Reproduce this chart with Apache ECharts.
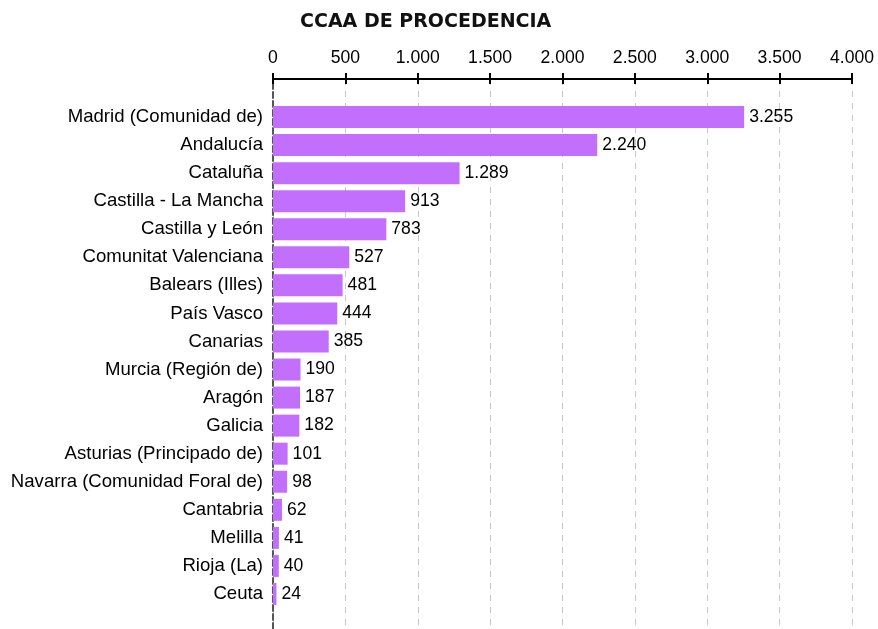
<!DOCTYPE html>
<html><head><meta charset="utf-8">
<script src="https://cdn.jsdelivr.net/npm/echarts@6/dist/echarts.min.js"></script>
<style>html,body{margin:0;padding:0;background:#fff}#c{width:878px;height:629px}</style>
</head><body><div id="c"></div>
<script>
const categories = ["Madrid (Comunidad de)","Andalucía","Cataluña","Castilla - La Mancha","Castilla y León","Comunitat Valenciana","Balears (Illes)","País Vasco","Canarias","Murcia (Región de)","Aragón","Galicia","Asturias (Principado de)","Navarra (Comunidad Foral de)","Cantabria","Melilla","Rioja (La)","Ceuta"];
const values = [3255,2240,1289,913,783,527,481,444,385,190,187,182,101,98,62,41,40,24];
const axisMin = 0, axisMax = 4000, axisStep = 500;
const titleText = "CCAA DE PROCEDENCIA";

function fmt(v){ return String(Math.round(v)).replace(/\B(?=(\d{3})+(?!\d))/g, "."); }

const chart = echarts.init(document.getElementById('c'));
chart.setOption({
  animation:false,
  title:{text:titleText,left:295,top:8,textStyle:{fontFamily:"DejaVu Sans",fontWeight:"bold",fontSize:19,color:"#111"}},
  grid:[
    {left:273,right:26,top:79,bottom:0},
    {left:273,right:26,top:103,height:505}
  ],
  xAxis:[
    {gridIndex:0,type:'value',position:'top',offset:0,min:axisMin,max:axisMax,interval:axisStep,
     axisLine:{show:true,onZero:false,lineStyle:{color:'#000',width:2}},
     axisTick:{show:true,length:6,lineStyle:{color:'#000',width:2}},
     axisLabel:{formatter:fmt,color:'#000',fontSize:17.6,fontFamily:'Liberation Sans',margin:12},
     splitLine:{show:true,lineStyle:{color:'#c8c8c8',type:[6,6],width:1}}},
    {gridIndex:0,type:'value',position:'top',offset:0,min:axisMin,max:axisMax,interval:axisStep,
     axisLine:{show:false,onZero:false},
     axisTick:{show:true,inside:true,length:5,lineStyle:{color:'#000',width:2}},
     axisLabel:{show:false},splitLine:{show:false}},
    {gridIndex:1,type:'value',min:axisMin,max:axisMax,show:false}
  ],
  yAxis:[
    {gridIndex:0,type:'value',min:0,max:1,axisLabel:{show:false},axisTick:{show:false},splitLine:{show:false},
     axisLine:{show:true,lineStyle:{color:'#555',width:2,type:[6,3]}}},
    {gridIndex:1,type:'category',data:categories,inverse:true,
     axisLine:{show:false},axisTick:{show:false},
     axisLabel:{color:'#000',fontSize:18.6,fontFamily:'Liberation Sans',margin:10}}
  ],
  series:[{type:'bar',xAxisIndex:2,yAxisIndex:1,data:values,barWidth:22,
    itemStyle:{color:'#c36ffe'},
    label:{show:true,position:'right',distance:5,color:'#000',fontSize:17.6,fontFamily:'Liberation Sans',formatter:p=>fmt(p.value)}}]
});
</script></body></html>
